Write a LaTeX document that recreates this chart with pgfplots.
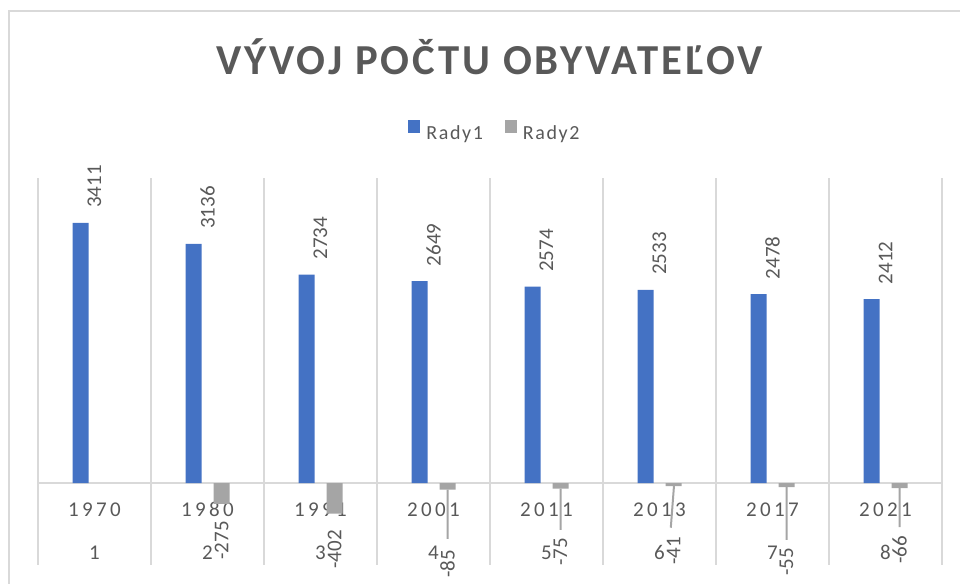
\documentclass[border=0pt]{standalone}
\usepackage{fontspec}
\setmainfont{Carlito}
\newfontfamily\titlefont{Carlito}[LetterSpace=7]
\newfontfamily\tickfont{Carlito}[LetterSpace=16]
\newfontfamily\legfont{Carlito}[LetterSpace=8]
\usepackage{pgfplots}
\usepackage{pgfplotstable}
\pgfplotsset{compat=1.18}
\definecolor{blueA}{HTML}{4472C4}
\definecolor{grayA}{HTML}{A5A5A5}
\definecolor{txt}{HTML}{595959}
\definecolor{gridc}{HTML}{D9D9D9}

\pgfplotstableread{
x y
1 3411
2 3136
3 2734
4 2649
5 2574
6 2533
7 2478
8 2412
}\blueT
\pgfplotstableread{
x y
2 -275
3 -402
4 -85
5 -75
6 -41
7 -55
8 -66
}\grayT
\pgfplotstableread{
x y
4.124 -85
4.124 -734
4.124 nan
5.124 -75
5.124 -616
5.124 nan
6.128 -41
6.100 -586
6.100 nan
7.124 -55
7.124 -747
7.124 nan
8.124 -66
8.124 -577
}\grayE
\pgfplotstableread{
x y lab
2.124 -500 -275
3.124 -616 -402
4.124 -878 -85
5.124 -721 -75
6.124 -708 -41
7.124 -852 -55
8.124 -695 -66
}\grayL

\begin{document}
\begin{tikzpicture}
\useasboundingbox (0,0) rectangle (960pt,583pt);
\draw[gridc, line width=2pt] (9pt,-2pt) -- (9pt,572pt) -- (962pt,572pt);
\node[font=\titlefont\bfseries\fontsize{42.7}{50}\selectfont, text=txt, anchor=base, inner sep=0pt] at (489.5pt,508pt) {VÝVOJ POČTU OBYVATEĽOV};
\begin{axis}[
  at={(38pt,18pt)}, anchor=south west,
  scale only axis, width=904pt, height=387pt,
  xmin=0.5, xmax=8.5, ymin=-1075, ymax=4000,
  clip=false,
  axis line style={draw=none},
  major tick length=0pt, minor tick length=0pt,
  ytick=\empty,
  extra y ticks={0}, extra y tick labels={},
  extra y tick style={ymajorgrids, major grid style={gridc, line width=2pt}},
  xtick={1,...,8},
  xticklabels={1970,1980,1991,2001,2011,2013,2017,2021},
  minor xtick={0.5,1.5,...,8.5},
  xminorgrids,
  minor grid style={gridc, line width=2pt},
  xticklabel style={font=\tickfont\fontsize{21}{25}\selectfont, text=txt, anchor=center, yshift=55.3pt},
  extra x ticks={1,...,8},
  extra x tick labels={1,2,3,4,5,6,7,8},
  extra x tick style={xticklabel style={yshift=-42.8pt}},
  /pgf/number format/1000 sep={},
  /pgf/number format/assume math mode=true,
  unbounded coords=jump,
  legend style={at={(0.5055,1.120)}, anchor=center, draw=none, fill=none,
    legend columns=2, font=\legfont\fontsize{20}{24}\selectfont, text=txt,
    /tikz/every even column/.append style={column sep=20pt}},
]
\addplot[ybar, bar width=16pt, bar shift=-14pt, fill=blueA, draw=none,
  legend image code/.code={\fill[blueA] (0pt,0pt) rectangle (12pt,13pt); \path (16pt,0pt);},
  nodes near coords,
  every node near coord/.append style={rotate=90, anchor=west, font=\fontsize{21}{25}\selectfont, text=txt, inner sep=0pt, outer sep=15pt}]
  table[x=x, y=y] {\blueT};
\addlegendentry{Rady1}
\addplot[ybar, bar width=16pt, bar shift=14pt, fill=grayA, draw=none,
  legend image code/.code={\fill[grayA] (0pt,0pt) rectangle (12pt,13pt); \path (16pt,0pt);}]
  table[x=x, y=y] {\grayT};
\addlegendentry{Rady2}
\addplot[grayA, line width=2pt, mark=none, forget plot] table[x=x, y=y] {\grayE};
\addplot[draw=none, mark=none, nodes near coords, point meta=explicit symbolic, forget plot,
  every node near coord/.append style={rotate=90, anchor=east, font=\fontsize{21}{25}\selectfont, text=txt, inner sep=0pt}]
  table[x=x, y=y, meta=lab] {\grayL};
\end{axis}
\end{tikzpicture}
\end{document}
